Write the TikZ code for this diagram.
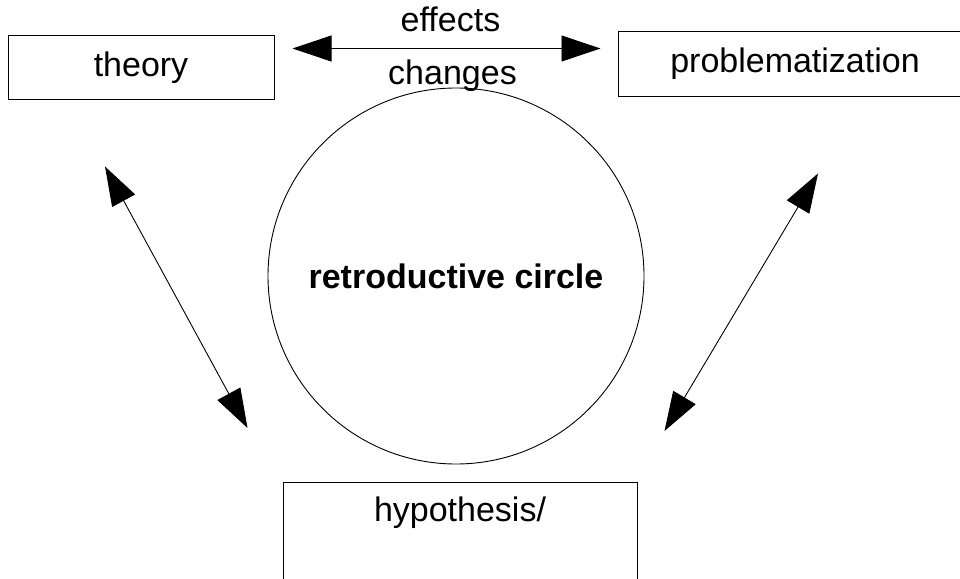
\documentclass[tikz,border=0pt]{standalone}
\usepackage{fontspec}
\setmainfont{Liberation Sans}
\usetikzlibrary{arrows.meta,calc}
\begin{document}
\begin{tikzpicture}[
                x=1pt, y=-1pt,
                every node/.style={font=\fontsize{34}{40}\selectfont, inner sep=0pt},
                box/.style={draw, rectangle, line width=1pt},
                link/.style={{Triangle[length=39pt,width=26pt]}-{Triangle[length=39pt,width=26pt]}, line width=0.9pt},
            ]
            \useasboundingbox (0,0) rectangle (960,578);
            \clip (0,0) rectangle (960,578);
            \node[box, minimum width=266pt, minimum height=63pt] (theory) at (141,67.5) {theory};
            \node[box, minimum width=354pt, minimum height=64pt] (prob) at (795,64) {problematization};
            \node[draw, circle, minimum size=376pt, line width=0.9pt,
                font=\fontsize{34}{40}\selectfont\bfseries] (circ) at (456,276) {retroductive circle};
            \node[box, minimum width=354pt, anchor=north, text height=39pt, text depth=60pt] (hyp) at (460,482) {hypothesis/};
            \draw[link] ($(theory.north east)+(18,13)$) -- ($(prob.north west)+(-17,17)$)
                node[midway, above=16pt, xshift=4pt] (eff) {effects}
                node[midway, below=11pt, xshift=6pt] (chg) {changes};
            \draw[link] ($(theory.south)+(-36,67)$) -- ($(hyp.north west)+(-35,-54)$);
            \draw[link] ($(prob.south)+(23,77)$) -- ($(hyp.north east)+(27,-51)$);
            \end{tikzpicture}
\end{document}
